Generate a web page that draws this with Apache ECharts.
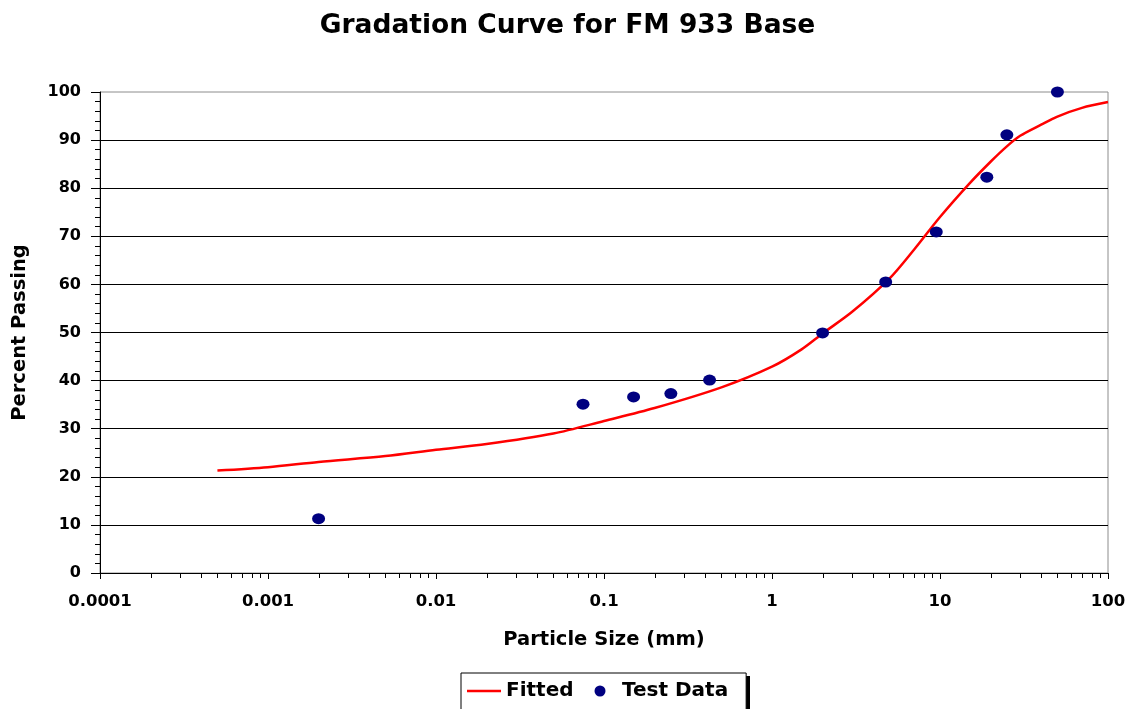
<!DOCTYPE html>
<html>
<head>
<meta charset="utf-8">
<script src="https://cdn.jsdelivr.net/npm/echarts@6/dist/echarts.min.js"></script>
<style>
  html, body { margin: 0; padding: 0; background: #fff; }
  #chart { width: 1135px; height: 709px; }
</style>
</head>
<body>
<div id="chart"></div>
<script>
// Sieve test results: particle size (mm) and percent passing
const testSizes   = [0.002, 0.075, 0.15, 0.25, 0.425, 2.0, 4.75, 9.5, 19, 25, 50];
const testPassing = [11.3, 35.1, 36.6, 37.3, 40.1, 49.9, 60.5, 70.9, 82.3, 91.1, 100];

// Fitted gradation curve
const fitSizes   = [0.0005, 0.001, 0.002, 0.005, 0.01, 0.02, 0.05, 0.1, 0.2, 0.5, 1, 1.5, 2, 3, 5, 7, 10, 15, 20, 25, 30, 40, 50, 70, 100];
const fitPassing = [21.3, 22.0, 23.1, 24.3, 25.6, 26.8, 29.0, 31.6, 34.3, 38.6, 42.9, 46.5, 49.8, 54.3, 61.2, 67.2, 74.0, 81.0, 85.5, 88.7, 90.9, 93.2, 94.9, 96.7, 97.9];

// Axis tick labels
const xTickLabels = ['0.0001', '0.001', '0.01', '0.1', '1', '10', '100'];
const decades = [0.0001, 0.001, 0.01, 0.1, 1, 10];

// Minor log ticks (2..9 within each decade)
const minorTicks = [];
decades.forEach(d => { for (let m = 2; m <= 9; m++) minorTicks.push([+(d * m).toPrecision(6), 0]); });

const font = '"DejaVu Sans", Verdana, sans-serif';
const chart = echarts.init(document.getElementById('chart'), null, { renderer: 'canvas' });

chart.setOption({
  animation: false,
  backgroundColor: '#fff',
  title: {
    text: 'Gradation Curve for FM 933 Base',
    left: 'center',
    top: 8,
    textStyle: { fontFamily: font, fontSize: 26.5, fontWeight: 'bold', color: '#000' }
  },
  grid: { left: 100, right: 27, top: 92, bottom: 136, show: true, borderColor: '#8c8c8c', borderWidth: 1, backgroundColor: 'transparent' },
  graphic: [
    // drop shadow behind the legend box
    { type: 'rect', left: 464, top: 676, shape: { width: 286, height: 40 }, style: { fill: '#000' }, z: 0, silent: true }
  ],
  legend: {
    top: 673,
    left: 461,
    itemGap: 21,
    itemWidth: 34,
    itemHeight: 11,
    padding: [8, 18, 12, 6],
    borderColor: '#000',
    borderWidth: 1,
    borderRadius: 0,
    backgroundColor: '#fff',
    z: 5,
    textStyle: { fontFamily: font, fontSize: 20, fontWeight: 'bold', color: '#000' },
    data: [
      { name: 'Fitted', icon: 'path://M0,0 L40,0 L40,3 L0,3 Z' },
      { name: 'Test Data', icon: 'circle' }
    ]
  },
  xAxis: {
    type: 'log',
    logBase: 10,
    min: 0.0001,
    max: 100,
    name: 'Particle Size (mm)',
    nameLocation: 'middle',
    nameGap: 57,
    nameTextStyle: { fontFamily: font, fontSize: 19.5, fontWeight: 'bold', color: '#000' },
    axisLine: { show: true, onZero: false, lineStyle: { color: '#000', width: 1 } },
    axisTick: { show: true, length: 6, lineStyle: { color: '#000' } },
    splitLine: { show: false },
    minorTick: { show: false },
    axisLabel: {
      margin: 20,
      fontFamily: font, fontSize: 16.5, fontWeight: 'bold', color: '#000',
      formatter: v => {
        const e = Math.round(Math.log10(v));
        return xTickLabels[e + 4] !== undefined ? xTickLabels[e + 4] : '';
      }
    }
  },
  yAxis: {
    type: 'value',
    min: 0,
    max: 100,
    interval: 10,
    name: 'Percent Passing',
    nameLocation: 'middle',
    nameGap: 70,
    nameTextStyle: { fontFamily: font, fontSize: 19.5, fontWeight: 'bold', color: '#000' },
    axisLine: { show: true, lineStyle: { color: '#000', width: 1 } },
    axisTick: { show: true, length: 9, lineStyle: { color: '#000' } },
    minorTick: { show: true, splitNumber: 5, length: 5, lineStyle: { color: '#000' } },
    splitLine: { show: true, lineStyle: { color: '#000', width: 1 }, showMaxLine: false },
    axisLabel: { margin: 19, fontFamily: font, fontSize: 16, fontWeight: 'bold', color: '#000' }
  },
  series: [
    {
      // minor log ticks under the x axis
      type: 'custom',
      silent: true,
      legendHoverLink: false,
      clip: false,
      data: minorTicks,
      renderItem: (params, api) => {
        const p = api.coord([api.value(0), 0]);
        return {
          type: 'line',
          shape: { x1: Math.round(p[0]) + 0.5, y1: p[1], x2: Math.round(p[0]) + 0.5, y2: p[1] + 5 },
          style: { stroke: '#000', lineWidth: 1 }
        };
      },
      z: 1
    },
    {
      name: 'Fitted',
      type: 'line',
      data: fitSizes.map((x, i) => [x, fitPassing[i]]),
      smooth: 0.3,
      symbol: 'none',
      lineStyle: { color: '#ff0000', width: 2.5 },
      itemStyle: { color: '#ff0000' },
      z: 3
    },
    {
      name: 'Test Data',
      type: 'scatter',
      data: testSizes.map((x, i) => [x, testPassing[i]]),
      symbol: 'circle',
      symbolSize: [13, 11],
      itemStyle: { color: '#000080', opacity: 1 },
      clip: false,
      z: 4
    }
  ]
});
</script>
</body>
</html>
